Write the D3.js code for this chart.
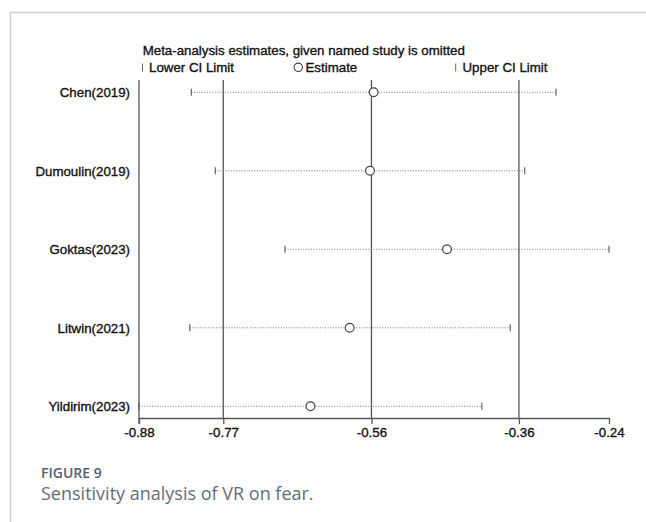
<!DOCTYPE html>
<html><head><meta charset="utf-8">
<script src="https://cdn.jsdelivr.net/npm/d3@7"></script>
<style>
html,body{margin:0;padding:0;background:#fff;}
svg{display:block;}
</style></head>
<body>
<svg id="c" width="646" height="522"></svg>
<script>
const studies = ["Chen(2019)", "Dumoulin(2019)", "Goktas(2023)", "Litwin(2021)", "Yildirim(2023)"];
const lowerCI = [-0.812, -0.779, -0.683, -0.814, -0.884];
const estimate = [-0.561, -0.566, -0.460, -0.594, -0.648];
const upperCI = [-0.310, -0.353, -0.237, -0.373, -0.412];
const overall = [-0.768, -0.564, -0.361]; // lower, estimate, upper
const title = "Meta-analysis estimates, given named study is omitted";
const legendLabels = ["Lower CI Limit", "Estimate", "Upper CI Limit"];
const figLabel = "FIGURE 9";
const caption = "Sensitivity analysis of VR on fear.";

const svg = d3.select("#c");
const font = "'Liberation Sans', Arial, sans-serif";

// frame
svg.append("path").attr("d", "M10.5,522 L10.5,12.5 L646,12.5")
  .attr("fill", "none").attr("stroke", "#cfcfcf").attr("stroke-width", 1.5);

const xmin = d3.min(lowerCI), xmax = d3.max(upperCI);
const x = d3.scaleLinear().domain([xmin, xmax]).range([139, 609]);
const y = d3.scalePoint().domain(studies).range([92.3, 406.3]);
const plotTop = 80, plotBottom = 418;

// reference lines
svg.selectAll("line.ref").data(overall).join("line")
  .attr("x1", d => x(d)).attr("x2", d => x(d))
  .attr("y1", plotTop).attr("y2", plotBottom)
  .attr("stroke", "#555").attr("stroke-width", 1.3);

// left axis line
svg.append("line").attr("x1", x(xmin)).attr("x2", x(xmin)).attr("y1", plotTop).attr("y2", plotBottom + 6)
  .attr("stroke", "#555").attr("stroke-width", 1.3);

// x axis
const ticks = [xmin, overall[0], overall[1], overall[2], xmax];
const xAxis = d3.axisBottom(x).tickValues(ticks).tickFormat(d => d.toFixed(2)).tickSizeInner(6).tickSizeOuter(0).tickPadding(4);
const gx = svg.append("g").attr("transform", `translate(0,${plotBottom})`).call(xAxis);
gx.select(".domain").attr("stroke", "#555").attr("stroke-width", 1.3);
gx.selectAll(".tick line").attr("stroke", "#555").attr("stroke-width", 1.3);
gx.selectAll(".tick text").attr("font-family", font).attr("font-size", 13.3)
  .attr("fill", "#111").attr("stroke", "#111").attr("stroke-width", 0.35);

// y labels
svg.selectAll("text.ylab").data(studies).join("text")
  .attr("class", "ylab")
  .attr("x", 130).attr("y", d => y(d) + 4.7)
  .attr("text-anchor", "end")
  .attr("font-family", font).attr("font-size", 13.3)
  .attr("fill", "#111").attr("stroke", "#111").attr("stroke-width", 0.35)
  .text(d => d);

// CI rows
const rows = studies.map((s, i) => ({s, lo: lowerCI[i], est: estimate[i], hi: upperCI[i]}));
const g = svg.append("g");
g.selectAll("line.ci").data(rows).join("line")
  .attr("x1", d => x(d.lo)).attr("x2", d => x(d.hi))
  .attr("y1", d => y(d.s)).attr("y2", d => y(d.s))
  .attr("stroke", "#777").attr("stroke-width", 1).attr("stroke-dasharray", "1,1.6");
g.selectAll("line.lo").data(rows).join("line")
  .attr("x1", d => x(d.lo)).attr("x2", d => x(d.lo))
  .attr("y1", d => y(d.s) - 3.5).attr("y2", d => y(d.s) + 3.5)
  .attr("stroke", "#555").attr("stroke-width", 1.1);
g.selectAll("line.hi").data(rows).join("line")
  .attr("x1", d => x(d.hi)).attr("x2", d => x(d.hi))
  .attr("y1", d => y(d.s) - 3.5).attr("y2", d => y(d.s) + 3.5)
  .attr("stroke", "#555").attr("stroke-width", 1.1);
g.selectAll("circle.est").data(rows).join("circle")
  .attr("cx", d => x(d.est)).attr("cy", d => y(d.s)).attr("r", 4.4)
  .attr("fill", "#fff").attr("stroke", "#444").attr("stroke-width", 1.2);

// title
const txt = (xx, yy, t, size) => svg.append("text").attr("x", xx).attr("y", yy)
  .attr("font-family", font).attr("font-size", size || 13.3)
  .attr("fill", "#111").attr("stroke", "#111").attr("stroke-width", 0.35).text(t);
txt(142.7, 55, title);

// legend
svg.append("line").attr("x1", 142.5).attr("x2", 142.5).attr("y1", 63.5).attr("y2", 71.5)
  .attr("stroke", "#666").attr("stroke-width", 1);
txt(149, 71.5, legendLabels[0]);
svg.append("circle").attr("cx", 298.3).attr("cy", 67.3).attr("r", 4.2)
  .attr("fill", "#fff").attr("stroke", "#444").attr("stroke-width", 1.1);
txt(305.5, 71.5, legendLabels[1]);
svg.append("line").attr("x1", 455.7).attr("x2", 455.7).attr("y1", 63.5).attr("y2", 71.5)
  .attr("stroke", "#666").attr("stroke-width", 1);
txt(462.5, 71.5, legendLabels[2]);

// caption
svg.append("text").attr("x", 41).attr("y", 478.3)
  .attr("font-family", "'Open Sans', sans-serif").attr("font-size", 14).attr("font-weight", 600)
  .attr("fill", "#59606c").text(figLabel);
svg.append("text").attr("x", 41).attr("y", 500)
  .attr("font-family", "'Open Sans', sans-serif").attr("font-size", 18).attr("font-weight", 400)
  .attr("fill", "#666d78").text(caption);
</script>
</body></html>
